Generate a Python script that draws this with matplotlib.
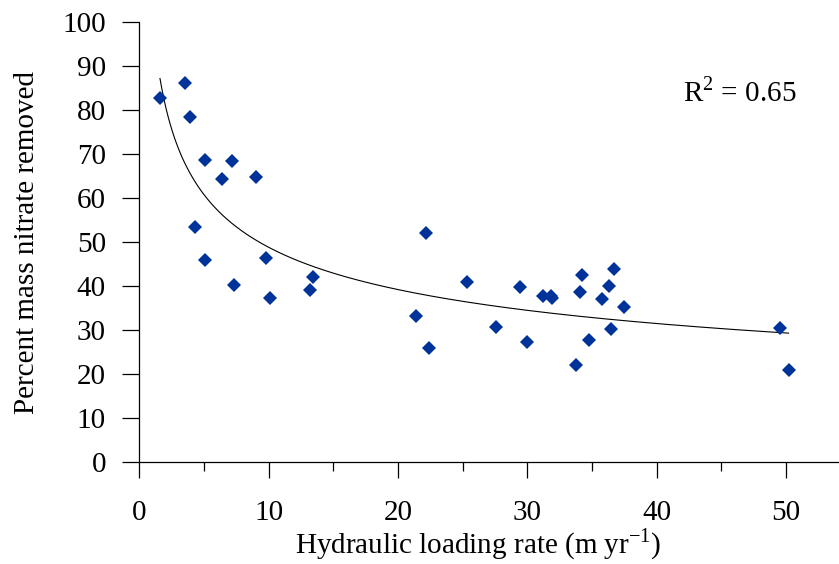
import matplotlib.pyplot as plt
import numpy as np

plt.rcParams['font.family'] = ['Liberation Serif', 'DejaVu Serif']
plt.rcParams['mathtext.fontset'] = 'custom'
plt.rcParams['mathtext.rm'] = 'Liberation Serif'

# hydraulic loading rate (m/yr) and percent mass nitrate removed
loading = [1.6, 3.5, 3.9, 5.1, 7.2, 6.4, 9.0, 4.3, 5.1, 9.8, 7.3, 10.1, 13.4, 13.2,
           22.2, 25.3, 21.4, 22.4, 29.4, 27.6, 30.0, 31.2, 31.8, 31.9,
           34.2, 34.1, 36.7, 36.3, 35.8, 37.5, 36.5, 34.8, 33.8, 49.5, 50.2]
removed = [82.7, 86.1, 78.5, 68.6, 68.4, 64.3, 64.7, 53.5, 45.8, 46.3, 40.2, 37.3, 42.0, 39.1,
           52.0, 40.8, 33.1, 25.8, 39.8, 30.7, 27.2, 37.7, 37.7, 37.2,
           42.5, 38.6, 43.9, 40.0, 37.1, 35.2, 30.3, 27.7, 22.1, 30.4, 20.9]

x = np.array(loading)
y = np.array(removed)

# power trend line y = a * x^b
b, lna = np.polyfit(np.log(x), np.log(y), 1)
xs = np.linspace(x.min(), x.max(), 300)
ys = np.exp(lna) * xs ** b

fs = 21
fig = plt.figure(figsize=(8.39, 5.64), dpi=100)
ax = fig.add_axes([139.3 / 839, 102 / 564, 1 - 139.3 / 839, 440 / 564])

ax.plot(xs, ys, color='black', lw=0.8)
ax.plot(x, y, 'D', color='#003399', ms=6.8, mew=0)

ax.set_xlim(0, 54.1)
ax.set_ylim(0, 100)
ax.set_xticks(range(0, 51, 10))
ax.set_xticks(range(5, 51, 10), minor=True)
ax.set_yticks(range(0, 101, 10))

for s in ['top', 'right']:
    ax.spines[s].set_visible(False)
for s in ['left', 'bottom']:
    ax.spines[s].set_linewidth(0.9)
    ax.spines[s].set_clip_on(False)

ax.tick_params(axis='x', which='major', direction='out', length=11.5, width=0.9,
               labelsize=fs, pad=16)
ax.tick_params(axis='x', which='minor', direction='out', length=6.5, width=0.9)
ax.tick_params(axis='y', direction='out', length=12, width=0.9, labelsize=fs, pad=12)

ax.set_xlabel('Hydraulic loading rate (m yr$^{-1}$)', fontsize=fs, labelpad=1)
ax.xaxis.set_label_coords(0.484, -0.146)
ax.set_ylabel('Percent mass nitrate removed', fontsize=fs, labelpad=16)

ax.text(0.858, 0.84, 'R$^2$ = 0.65', transform=ax.transAxes,
        fontsize=fs, ha='center', va='center')

fig.savefig('out.png', dpi=100)
